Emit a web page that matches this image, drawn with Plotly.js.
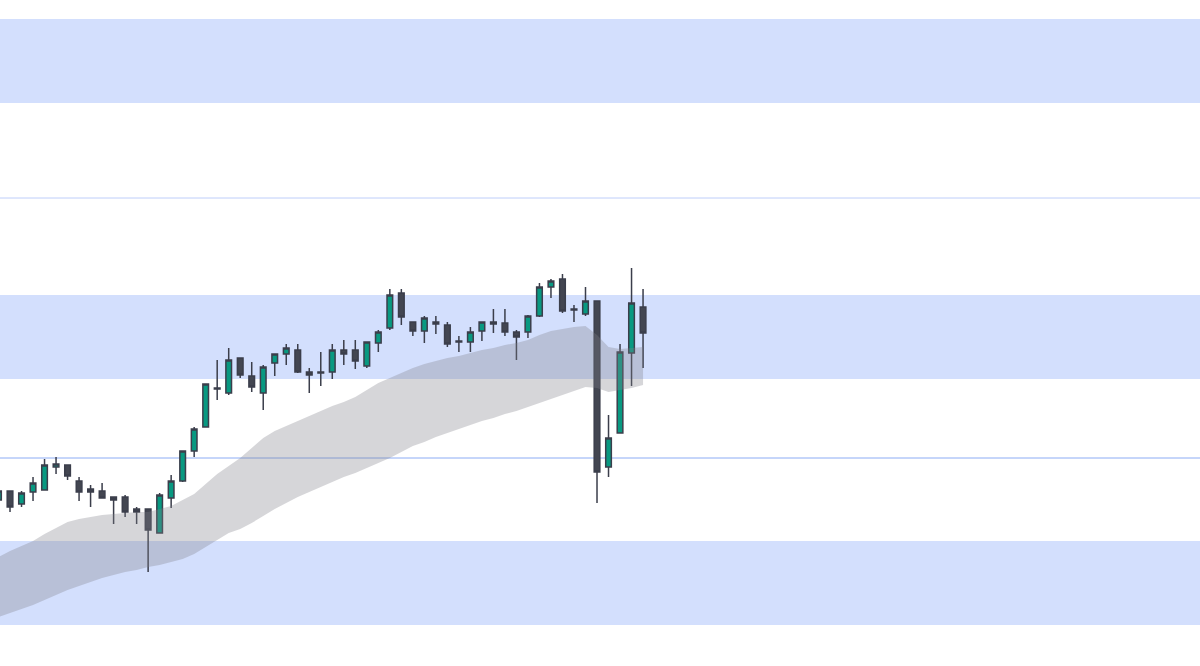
<!DOCTYPE html>
<html>
<head>
<meta charset="utf-8">
<script src="https://cdn.plot.ly/plotly-3.0.1.min.js"></script>
<style>html,body{margin:0;padding:0;background:#fff;}#chart{width:1200px;height:666px;}</style>
</head>
<body>
<div id="chart"></div>
<script>
// Bar index (session number)
const bars = Array.from({length: 57}, (_, i) => i);

// OHLC values
const opens  = [200,209,196,208,210,233,235,219,211,209,203,203,191,191,167,202,219,249,273,312,307,342,324,307,337,346,350,328,328,328,350,350,334,357,372,407,378,369,376,375,359,358,369,378,377,368,368,384,413,421,391,386,399,233,267,347,393];
const highs  = [211,209,209,223,241,243,235,223,215,217,203,205,193,191,207,225,249,273,316,340,352,342,338,335,346,356,356,332,348,356,360,360,358,370,411,411,378,384,384,378,364,373,378,391,391,370,385,417,421,426,395,413,399,285,356,432,411];
const lows   = [198,188,193,199,210,226,220,199,193,202,176,183,176,128,167,192,218,243,273,300,305,322,308,290,324,335,327,307,314,321,335,331,332,348,370,375,364,357,366,353,348,348,359,367,364,340,362,383,402,387,378,384,197,223,267,314,332];
const closes = [209,193,207,217,235,236,224,208,208,202,200,188,188,170,205,219,249,271,316,311,340,325,313,333,346,352,328,325,327,350,346,339,358,368,405,383,369,382,378,356,358,368,378,376,368,363,384,413,419,389,390,399,228,262,348,397,367];

// Moving-average envelope (upper / lower)
const bandUpper = [143,149,154,159,166,172,178,181,183,185,186,187,188,188,191,194,200,206,216,226,234,242,252,262,269,274,279,284,289,294,298,303,310,317,322,327,332,336,339,342,344,347,350,352,355,357,360,365,369,371,373,374,365,353,351,352,353];
const bandLower = [83,87,91,95,100,105,110,114,118,122,125,128,130,133,135,138,141,146,153,160,167,171,177,184,191,197,203,208,213,218,223,227,232,237,242,248,254,258,263,267,271,275,279,282,286,289,293,297,301,305,309,313,312,308,310,312,315];

// Price zones and levels
const zoneLow  = [597, 321, 75];
const zoneHigh = [681, 405, 159];
const levels   = [502, 242];
const levelColors = ['rgb(190,206,250)', 'rgb(140,172,245)'];

const traces = [
  {x: bars, y: bandLower, type: 'scatter', mode: 'lines', line: {width: 0, color: 'rgba(0,0,0,0)'}, hoverinfo: 'skip', showlegend: false},
  {x: bars, y: bandUpper, type: 'scatter', mode: 'lines', fill: 'tonexty', fillcolor: 'rgba(128,128,136,0.32)', line: {width: 0, color: 'rgba(0,0,0,0)'}, hoverinfo: 'skip', showlegend: false},
  {
    x: bars, open: opens, high: highs, low: lows, close: closes,
    type: 'candlestick', showlegend: false,
    increasing: {line: {color: '#3b3e4b', width: 1.5}, fillcolor: '#089981'},
    decreasing: {line: {color: '#3b3e4b', width: 1.5}, fillcolor: '#434651'}
  }
];

const shapes = [];
zoneLow.forEach((lo, i) => shapes.push({
  type: 'rect', xref: 'paper', yref: 'y', x0: 0, x1: 1, y0: lo, y1: zoneHigh[i],
  fillcolor: '#d3dffd', line: {width: 0}, layer: 'below'
}));
levels.forEach((lv, i) => shapes.push({
  type: 'line', xref: 'paper', yref: 'y', x0: 0, x1: 1, y0: lv, y1: lv,
  line: {color: levelColors[i], width: 1}, layer: 'below'
}));

const layout = {
  width: 1200, height: 666,
  margin: {l: 0, r: 0, t: 0, b: 0},
  paper_bgcolor: '#ffffff', plot_bgcolor: '#ffffff',
  showlegend: false,
  xaxis: {range: [0.13, 104.39], visible: false, showgrid: false, zeroline: false, rangeslider: {visible: false}, fixedrange: true},
  yaxis: {range: [34, 700], visible: false, showgrid: false, zeroline: false, fixedrange: true},
  shapes: shapes
};

Plotly.newPlot('chart', traces, layout, {displayModeBar: false, staticPlot: true});
</script>
</body>
</html>
